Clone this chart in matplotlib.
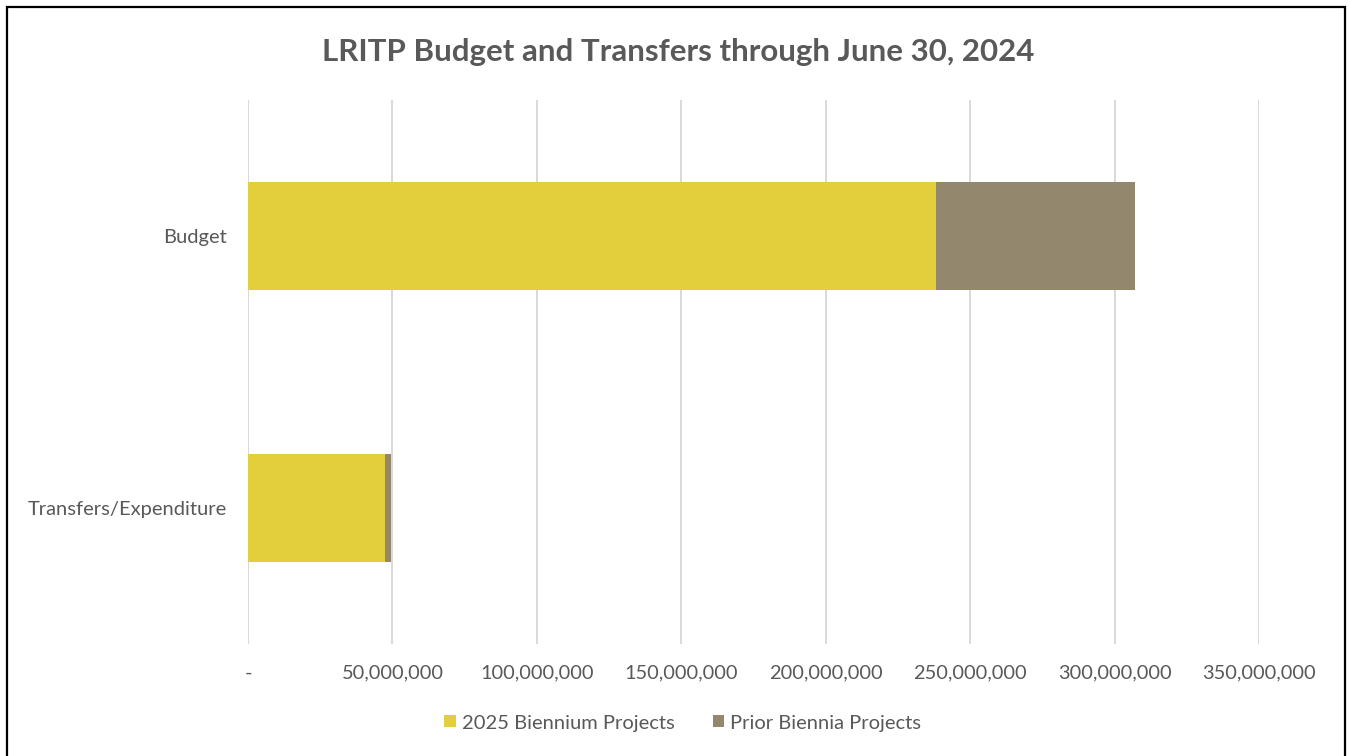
import matplotlib
matplotlib.use("Agg")
import matplotlib.pyplot as plt
import matplotlib.ticker as mticker
from matplotlib.patches import Rectangle

plt.rcParams['font.family'] = ['Lato', 'DejaVu Sans']

categories = ["Transfers/Expenditure", "Budget"]
biennium_2025 = [47_500_000, 238_100_000]
prior_biennia = [2_100_000, 68_800_000]
series_names = ["2025 Biennium Projects", "Prior Biennia Projects"]
x_ticks = [0, 50_000_000, 100_000_000, 150_000_000, 200_000_000,
           250_000_000, 300_000_000, 350_000_000]

YELLOW = "#E3CE3C"
TAUPE = "#93886E"
TEXT = "#595959"

fig = plt.figure(figsize=(13.5, 7.56), dpi=100)
ax = fig.add_axes([248 / 1350, 1 - 644 / 756, 1011 / 1350, 544 / 756])

ypos = list(range(len(categories)))
ax.barh(ypos, biennium_2025, height=0.4, color=YELLOW, label=series_names[0], zorder=3)
ax.barh(ypos, prior_biennia, left=biennium_2025, height=0.4, color=TAUPE,
        label=series_names[1], zorder=3)

ax.set_ylim(-0.5, 1.5)
ax.set_xlim(0, 350_000_000)
ax.set_yticks(ypos)
ax.set_yticklabels(categories)
ax.set_xticks(x_ticks)
ax.xaxis.set_major_formatter(mticker.FuncFormatter(
    lambda v, p: "-" if v == 0 else f"{v:,.0f}"))
ax.tick_params(axis="y", length=0, labelsize=14.5, colors=TEXT, pad=15)
ax.tick_params(axis="x", length=0, labelsize=14.4, colors=TEXT, pad=15)
ax.grid(axis="x", color="#D9D9D9", linewidth=1.4, zorder=0)
for s in ax.spines.values():
    s.set_visible(False)

fig.text(0.502, 1 - 52 / 756, "LRITP Budget and Transfers through June 30, 2024",
         ha="center", va="center", fontsize=22.5, fontweight="bold", color=TEXT)

fig.legend(loc="center", bbox_to_anchor=(0.5056, 1 - 723 / 756), ncol=2,
           frameon=False, fontsize=14.5, labelcolor=TEXT, handlelength=0.55,
           handleheight=0.55, handletextpad=0.3, columnspacing=1.9)

fig.patches.append(Rectangle((7 / 1350, -0.02), 1338 / 1350, 1 - 7 / 756 + 0.02,
                             transform=fig.transFigure, fill=False,
                             edgecolor="black", linewidth=1.6))

fig.savefig("out.png", dpi=100)
